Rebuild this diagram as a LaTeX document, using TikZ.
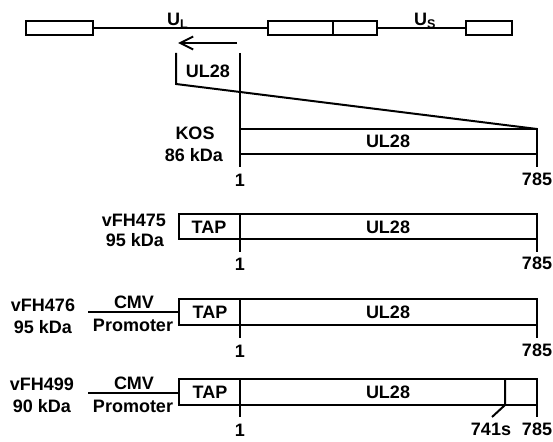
\documentclass[tikz,border=0pt]{standalone}
\usepackage{fontspec}
\setmainfont{Liberation Sans}
\usetikzlibrary{arrows.meta}
\begin{document}
\begin{tikzpicture}[x=1pt,y=-1pt,
  ln/.style={line width=2pt},
  lbl/.style={font=\bfseries\fontsize{18}{20}\selectfont, inner sep=0pt},
  num/.style={lbl, anchor=north}]
\useasboundingbox (0,0) rectangle (553,441);
% genome
\draw[ln] (26,21) rectangle (93,35);
\draw[ln] (268,21) rectangle (377,35);
\draw[ln] (333,21) -- (333,35);
\draw[ln] (466,21) rectangle (512,35);
\draw[ln] (93,28) -- (268,28);
\draw[ln] (377,28) -- (466,28);
\node[lbl, anchor=base west] (UL) at (167,26) {U\textsubscript{L}};
\node[lbl, anchor=base west] (US) at (414,26) {U\textsubscript{S}};
\coordinate (arS) at (237,43);
\coordinate (arE) at (178,43);
\draw[ln,-{Straight Barb[length=13pt,width=13pt]}] (arS) -- (arE);
% zoom lines
\coordinate (zl) at (176,53);
\coordinate (zlb) at (176,84);
\coordinate (zr) at (240,53);
\coordinate (kosTR) at (537,129);
\draw[ln] (zl) -- (zlb) -- (kosTR);
\node[lbl] (ul28top) at (208,71) {UL28};
% KOS
\draw[ln] (zr) -- (240,167);
\draw[ln] (240,129) -- (kosTR) -- (537,167);
\draw[ln] (240,154) -- (537,154);
\node[lbl] (kosin) at (388,141) {UL28};
\node[lbl] (kos) at (195,133.5) {KOS};
\node[lbl] (kosk) at (194,155.5) {86 kDa};
\node[num] (k1) at (240,174) {1};
\node[num] (k785) at (537,173) {785};
% vFH475
\draw[ln] (179,214) rectangle (537,239);
\draw[ln] (240,214) -- (240,252);
\draw[ln] (537,239) -- (537,252);
\node[lbl] at (209,227) {TAP};
\node[lbl] at (388,227) {UL28};
\node[lbl, anchor=east] (v475) at (166,220) {vFH475};
\node[lbl, anchor=east] (v475k) at (164,240) {95 kDa};
\node[num] (a1) at (240,258) {1};
\node[num] (a785) at (537,257) {785};
% vFH476
\draw[ln] (179,299) rectangle (537,325);
\draw[ln] (240,299) -- (240,338);
\draw[ln] (537,325) -- (537,338);
\coordinate (p1a) at (88,312);
\draw[ln] (p1a) -- (179,312);
\node[lbl] at (210,312) {TAP};
\node[lbl] at (388,312) {UL28};
\node[lbl] (c1) at (134,302.5) {CMV};
\node[lbl] (pr1) at (133,325) {Promoter};
\node[lbl] (v476) at (43,305.5) {vFH476};
\node[lbl] (v476k) at (43,327.5) {95 kDa};
\node[num] (b1) at (240,345) {1};
\node[num] (b785) at (537,344) {785};
% vFH499
\draw[ln] (179,379) rectangle (537,405);
\draw[ln] (240,379) -- (240,417);
\draw[ln] (537,405) -- (537,417);
\draw[ln] (505,379) -- (505,405) -- (492,417);
\coordinate (p2a) at (88,393);
\draw[ln] (p2a) -- (179,393);
\node[lbl] at (210,392) {TAP};
\node[lbl] at (388,392) {UL28};
\node[lbl] (c2) at (134,383.5) {CMV};
\node[lbl] (pr2) at (133,406) {Promoter};
\node[lbl] (v499) at (42,384.5) {vFH499};
\node[lbl] (v499k) at (42,406.5) {90 kDa};
\node[num] (d1) at (240,424) {1};
\node[num] (d741) at (491,423) {741s};
\node[num] (d785) at (537,423) {785};
\end{tikzpicture}
\end{document}
